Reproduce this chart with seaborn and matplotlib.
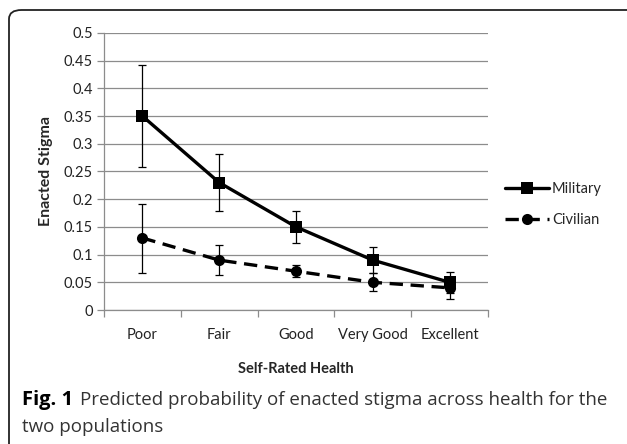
import numpy as np
import pandas as pd
import matplotlib
matplotlib.use("Agg")
import matplotlib.pyplot as plt
from matplotlib.patches import FancyBboxPatch
import seaborn as sns

categories = ["Poor", "Fair", "Good", "Very Good", "Excellent"]
military = [0.35, 0.23, 0.15, 0.09, 0.05]
military_lo = [0.258, 0.179, 0.121, 0.066, 0.031]
military_hi = [0.442, 0.281, 0.179, 0.113, 0.069]
civilian = [0.13, 0.09, 0.07, 0.05, 0.04]
civilian_lo = [0.067, 0.063, 0.059, 0.034, 0.02]
civilian_hi = [0.192, 0.117, 0.081, 0.067, 0.06]
yticks = [0, 0.05, 0.1, 0.15, 0.2, 0.25, 0.3, 0.35, 0.4, 0.45, 0.5]

sns.set_theme(style="white")
plt.rcParams["font.family"] = ["Lato", "DejaVu Sans"]

df = pd.DataFrame({
    "health": categories * 2,
    "value": military + civilian,
    "group": ["Military"] * 5 + ["Civilian"] * 5,
})

fig = plt.figure(figsize=(6.27, 4.44), dpi=100)
ax = fig.add_axes([0.1659, 0.3018, 0.6124, 0.6239])

# rounded frame around the figure (right/bottom edges cut off)
frame = FancyBboxPatch((9 / 627, -0.2), 1.2, 1 - 10 / 444 + 0.2,
                       boxstyle="round,pad=0,rounding_size=0.02",
                       transform=fig.transFigure, fill=False,
                       edgecolor="#222222", linewidth=1.3, clip_on=False)
fig.patches.append(frame)

dash = (4.0, 2.3)
sns.lineplot(data=df, x="health", y="value", hue="group", style="group",
             palette={"Military": "black", "Civilian": "black"},
             dashes={"Military": "", "Civilian": dash},
             markers={"Military": "s", "Civilian": "o"},
             markersize=8, markeredgewidth=0, linewidth=2.4,
             sort=False, ax=ax, legend=False)

xpos = np.arange(len(categories))
for vals, lo, hi in [(military, military_lo, military_hi),
                     (civilian, civilian_lo, civilian_hi)]:
    v = np.array(vals)
    err = [v - np.array(lo), np.array(hi) - v]
    ax.errorbar(xpos, v, yerr=err, fmt="none", ecolor="black",
                elinewidth=0.9, capsize=2.8, capthick=0.9, zorder=5)

ax.set_xlim(-0.5, 4.5)
ax.set_ylim(0, 0.5)
ax.set_yticks(yticks)
ax.set_yticklabels([f"{t:g}" for t in yticks], fontsize=10.5, color="#222222")
ax.yaxis.grid(True, color="#8c8c8c", linewidth=0.9)
ax.set_axisbelow(True)
ax.set_xticks(xpos)
ax.set_xticklabels(categories, fontsize=10.5, color="#222222")
ax.set_xticks(np.arange(-0.5, 5, 1), minor=True)
ax.tick_params(axis="x", which="major", length=0, pad=13)
ax.tick_params(axis="x", which="minor", length=5, color="#8c8c8c", width=0.9,
               direction="out", bottom=True)
ax.tick_params(axis="y", length=5, color="#8c8c8c", width=0.9, left=True, pad=3)
for s in ["top", "right"]:
    ax.spines[s].set_visible(False)
for s in ["left", "bottom"]:
    ax.spines[s].set_color("#8c8c8c")
    ax.spines[s].set_linewidth(0.9)

ax.set_xlabel("Self-Rated Health", fontsize=10.5, fontweight="bold", labelpad=14)
ax.set_ylabel("Enacted Stigma", fontsize=11.5, fontweight="bold", labelpad=8)

# legend drawn beside the plot
handles = [
    plt.Line2D([], [], color="black", lw=2.4, marker="s", markersize=8, markeredgewidth=0),
    plt.Line2D([], [], color="black", lw=2.4, marker="o", markersize=8, markeredgewidth=0,
               dashes=dash),
]
fig.legend(handles, ["Military", "Civilian"], loc="upper left",
           bbox_to_anchor=(0.785, 0.62), frameon=False, fontsize=10.5,
           handlelength=3.0, handletextpad=0.2, labelspacing=1.15)

cap_font = ["Open Sans", "DejaVu Sans"]
fig.text(22 / 627, 1 - 400 / 444, "Fig. 1", fontsize=14.5, fontweight="bold",
         family=cap_font, va="center", color="black")
fig.text(80 / 627, 1 - 400 / 444,
         "Predicted probability of enacted stigma across health for the",
         fontsize=13.5, family=cap_font, va="center", color="#333333")
fig.text(22 / 627, 1 - 427 / 444, "two populations", fontsize=13.5,
         family=cap_font, va="center", color="#333333")

fig.savefig("out.png", dpi=100)
